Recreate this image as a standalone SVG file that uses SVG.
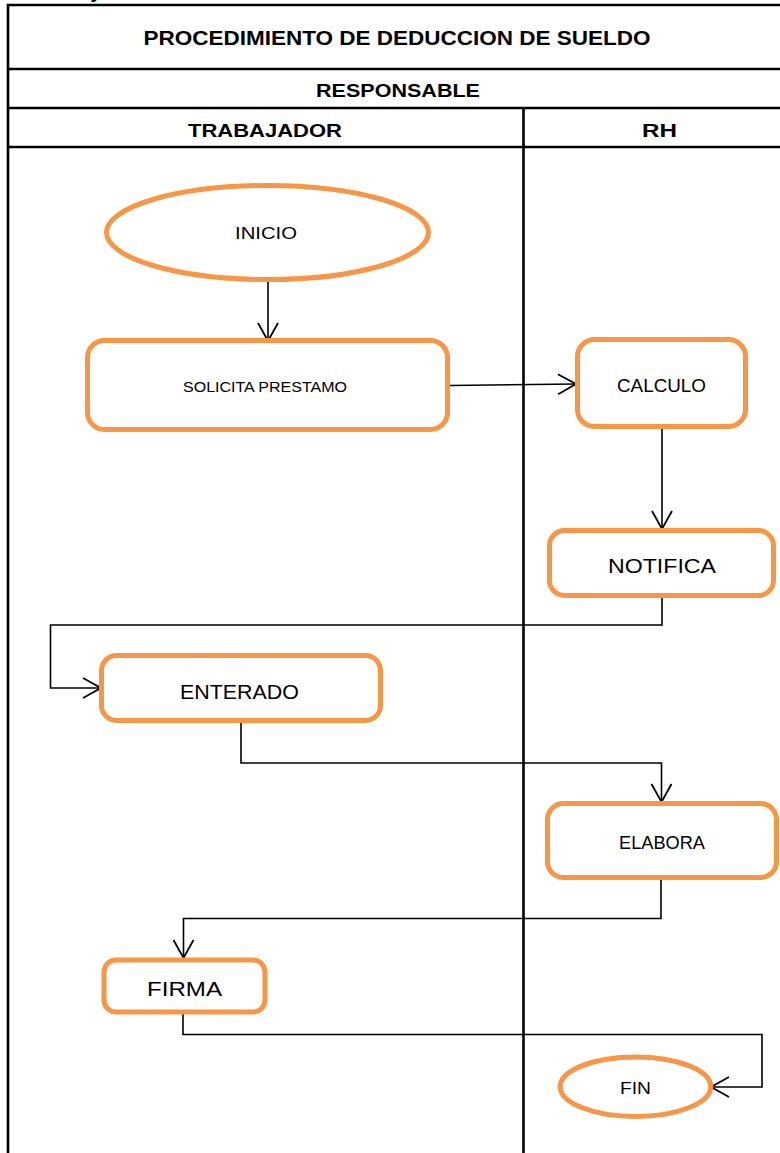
<svg xmlns="http://www.w3.org/2000/svg" width="780" height="1153" viewBox="0 0 780 1153">
<style>
.grid{stroke:#000;stroke-width:2.6;fill:none}
.hdr{font-family:"Liberation Sans",Arial,sans-serif;font-weight:bold;fill:#000;text-anchor:middle}
.shape{fill:#fff;stroke:#F79646;stroke-width:5}
.lbl{font-family:"Liberation Sans",Arial,sans-serif;fill:#000;text-anchor:middle}
.conn{fill:none;stroke:#000;stroke-width:1.6;marker-end:url(#arr)}
</style>
<defs>
<marker id="arr" markerUnits="userSpaceOnUse" markerWidth="24" markerHeight="24" viewBox="-20 -12 22 24" refX="0" refY="0" orient="auto">
<path d="M-18,-10 L0,0 L-18,10" fill="none" stroke="#000" stroke-width="1.8"/>
</marker>
</defs>
<rect width="780" height="1153" fill="#fff"/>
<text x="96" y="-2" class="hdr" font-size="20">y</text>
<g id="table">
<path class="grid" d="M8,1153 V5 H780 M8,69 H780 M8,108 H780 M8,147 H780 M523.5,108 V1153"/>
<text class="hdr" x="397" y="45" font-size="21" textLength="507" lengthAdjust="spacingAndGlyphs">PROCEDIMIENTO DE DEDUCCION DE SUELDO</text>
<text class="hdr" x="398" y="97" font-size="19" textLength="164" lengthAdjust="spacingAndGlyphs">RESPONSABLE</text>
<text class="hdr" x="265" y="137" font-size="19" textLength="154" lengthAdjust="spacingAndGlyphs">TRABAJADOR</text>
<text class="hdr" x="659.5" y="137" font-size="19" textLength="35" lengthAdjust="spacingAndGlyphs">RH</text>
</g>
<g id="connectors">
<path class="conn" d="M268,280 V341"/>
<path class="conn" d="M450,385.5 L576,384"/>
<path class="conn" d="M662,429 V529"/>
<path class="conn" d="M662,598 V625 H50.5 V688 H101"/>
<path class="conn" d="M241,723 V763 H661.5 V802"/>
<path class="conn" d="M661,880 V918.5 H183.5 V958"/>
<path class="conn" d="M183,1014 V1034.5 H762 V1087 H711"/>
</g>
<g id="inicio">
<ellipse class="shape" cx="267.5" cy="232.5" rx="161" ry="47"/>
<text class="lbl" x="266" y="239" font-size="17" textLength="62" lengthAdjust="spacingAndGlyphs">INICIO</text>
</g>
<g id="solicita">
<rect class="shape" x="87.5" y="340.5" width="360" height="89" rx="17"/>
<text class="lbl" x="265" y="392" font-size="14" textLength="164" lengthAdjust="spacingAndGlyphs">SOLICITA  PRESTAMO</text>
</g>
<g id="calculo">
<rect class="shape" x="577.5" y="339.5" width="168" height="87" rx="17"/>
<text class="lbl" x="661.5" y="392" font-size="18" textLength="89" lengthAdjust="spacingAndGlyphs">CALCULO</text>
</g>
<g id="notifica">
<rect class="shape" x="549.5" y="530.5" width="224" height="65" rx="15"/>
<text class="lbl" x="662" y="573" font-size="21" textLength="108" lengthAdjust="spacingAndGlyphs">NOTIFICA</text>
</g>
<g id="enterado">
<rect class="shape" x="101.5" y="655.5" width="279" height="65" rx="15"/>
<text class="lbl" x="239.5" y="699" font-size="21" textLength="119" lengthAdjust="spacingAndGlyphs">ENTERADO</text>
</g>
<g id="elabora">
<rect class="shape" x="547.5" y="803.5" width="229" height="74" rx="16"/>
<text class="lbl" x="662" y="849" font-size="18" textLength="86" lengthAdjust="spacingAndGlyphs">ELABORA</text>
</g>
<g id="firma">
<rect class="shape" x="104" y="960" width="161" height="52" rx="12"/>
<text class="lbl" x="184.5" y="996" font-size="21" textLength="75" lengthAdjust="spacingAndGlyphs">FIRMA</text>
</g>
<g id="fin">
<ellipse class="shape" cx="635.5" cy="1086.7" rx="75.3" ry="29.8"/>
<text class="lbl" x="635.5" y="1094" font-size="16" textLength="31" lengthAdjust="spacingAndGlyphs">FIN</text>
</g>
</svg>
